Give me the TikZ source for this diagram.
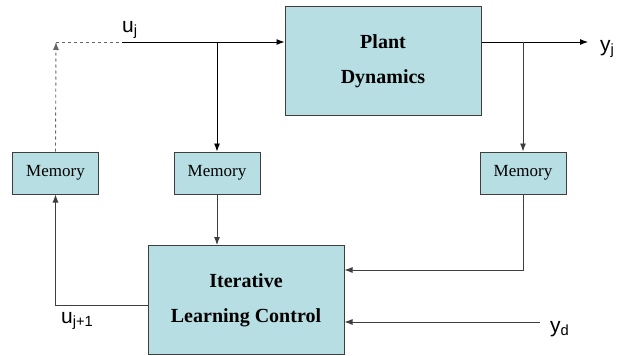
\documentclass[tikz,border=0pt]{standalone}
\usepackage{fontspec}
\setmainfont{Liberation Serif}
\newfontfamily\arialfont{Liberation Sans}
\usepackage{tikz}
\usetikzlibrary{arrows.meta,calc,positioning}
\definecolor{blockfill}{RGB}{183,222,226}
\definecolor{edgegray}{RGB}{62,62,62}

\begin{document}
\begin{tikzpicture}[x=1pt,y=-1pt,
    block/.style={draw=edgegray,line width=1pt,fill=blockfill,rectangle,
      minimum width=196pt,minimum height=109pt,inner sep=0pt,align=center,
      font=\fontsize{20}{35}\selectfont\bfseries},
    memo/.style={draw=edgegray,line width=1pt,fill=blockfill,rectangle,
      minimum width=86pt,minimum height=42pt,inner sep=0pt,
      font=\fontsize{17}{18}\selectfont},
    sig/.style={draw=edgegray,line width=0.9pt,-{Latex[length=8pt,width=6pt]}},
    lab/.style={font=\arialfont\fontsize{21}{22}\selectfont,inner sep=0pt}]
  \useasboundingbox (0,0) rectangle (619,356);
  % blocks
  \node[block] (plant) at (383,61) {Plant\\Dynamics};
  \node[block] (ilc) at (246,300) {Iterative\\Learning Control};
  \node[memo] (mem1) at (55.5,173) {Memory};
  \node[memo] (mem2) at (217,173) {Memory};
  \node[memo] (mem3) at (523,173) {Memory};
  % input u_j
  \coordinate (corner) at (56,42);
  \coordinate (dashend) at (122,42);
  \draw[sig,dashed,draw=gray!80!black] (mem1.north) -- (corner);
  \draw[dashed,gray!80!black,line width=0.9pt] (corner) -- (dashend);
  \draw[sig,draw=black] (dashend) -- (plant.west |- dashend);
  \node[lab,anchor=base west] (uj) at (122,32) {u\textsubscript{j}};
  \draw[sig,draw=black] (mem2.north |- corner) -- (mem2.north);
  % output y_j
  \coordinate (yout) at (588,42);
  \draw[sig,draw=black] (plant.east |- yout) -- (yout);
  \node[lab,anchor=base west] (yj) at (600,51) {y\textsubscript{j}};
  \draw[sig] (mem3.north |- yout) -- (mem3.north);
  % into the learning controller
  \draw[sig] (mem2.south) -- (mem2.south |- ilc.north);
  \draw[sig] (mem3.south) |- ([yshift=30pt]ilc.east);
  \coordinate (ydin) at (540,322);
  \draw[sig] (ydin) -- (ilc.east |- ydin);
  \node[lab,anchor=base west] (yd) at (550,332) {y\textsubscript{d}};
  % u_{j+1} back to memory
  \draw[sig] ([yshift=-5pt]ilc.west) -| (mem1.south);
  \node[lab,anchor=base west] (ujn) at (61,323) {u\textsubscript{j+1}};
\end{tikzpicture}
\end{document}
